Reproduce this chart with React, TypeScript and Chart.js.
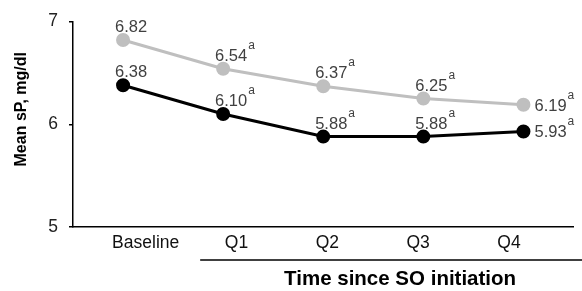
import React, { useEffect, useRef } from "react";
import { Chart, registerables } from "chart.js";

Chart.register(...registerables);

const categories = ["Baseline", "Q1", "Q2", "Q3", "Q4"];
const xTickLabels = ["Baseline", "Q1", "Q2", "Q3", "Q4"];
const grayValues = [6.82, 6.54, 6.37, 6.25, 6.19];
const blackValues = [6.38, 6.1, 5.88, 5.88, 5.93];
const graySup = ["", "a", "a", "a", "a"];
const blackSup = ["", "a", "a", "a", "a"];
const yTicks = [5, 6, 7];
const yTitle = "Mean sP, mg/dl";
const xTitle = "Time since SO initiation";

const FONT = '"Liberation Sans", Arial, Helvetica, sans-serif';

const labelPlugin = {
  id: "valueLabels",
  afterDatasetsDraw(chart: any) {
    const ctx = chart.ctx;
    ctx.save();
    chart.data.datasets.forEach((ds: any, di: number) => {
      const meta = chart.getDatasetMeta(di);
      const n = meta.data.length;
      meta.data.forEach((pt: any, i: number) => {
        const txt = Number(ds.data[i]).toFixed(2);
        const sup = ds.sups[i];
        ctx.font = `16.5px ${FONT}`;
        ctx.fillStyle = "#404040";
        ctx.textAlign = "left";
        ctx.textBaseline = "alphabetic";
        const w = ctx.measureText(txt).width;
        let x0: number;
        let yb: number;
        if (i === n - 1) {
          x0 = pt.x + 11;
          yb = pt.y + 6;
        } else {
          x0 = pt.x + 8 - w / 2;
          yb = pt.y - 8;
        }
        ctx.fillText(txt, x0, yb);
        if (sup) {
          ctx.font = `12px ${FONT}`;
          ctx.fillText(sup, x0 + w + 1, yb - 12);
        }
      });
    });
    ctx.restore();
  },
};

const decorPlugin = {
  id: "decor",
  afterDraw(chart: any) {
    const ctx = chart.ctx;
    const area = chart.chartArea;
    const x2 = chart.scales.x2;
    ctx.save();
    // underline under Q1..Q4
    ctx.strokeStyle = "#000";
    ctx.lineWidth = 1.5;
    ctx.beginPath();
    const lx = x2.getPixelForValue(0.6);
    ctx.moveTo(lx, area.bottom + 33);
    ctx.lineTo(chart.width, area.bottom + 33);
    ctx.stroke();
    // x title
    ctx.fillStyle = "#000";
    ctx.font = `bold 20.5px ${FONT}`;
    ctx.textAlign = "center";
    ctx.textBaseline = "alphabetic";
    ctx.fillText(xTitle, (lx + chart.width) / 2 + 9, area.bottom + 58);
    // y title
    ctx.translate(21.5, (area.top + area.bottom) / 2 - 15);
    ctx.rotate(-Math.PI / 2);
    ctx.font = `bold 16px ${FONT}`;
    ctx.textBaseline = "middle";
    ctx.fillText(yTitle, 0, 0);
    ctx.restore();
  },
};

export default function App() {
  const ref = useRef<HTMLCanvasElement | null>(null);
  useEffect(() => {
    if (!ref.current) return;
    const chart = new Chart(ref.current, {
      type: "line",
      data: {
        labels: categories,
        datasets: [
          {
            data: grayValues,
            sups: graySup,
            borderColor: "#bfbfbf",
            backgroundColor: "#bfbfbf",
            pointBackgroundColor: "#bfbfbf",
            pointBorderColor: "#bfbfbf",
            borderWidth: 3,
            pointRadius: 5.5,
            tension: 0,
            xAxisID: "x",
            yAxisID: "y",
          } as any,
          {
            data: blackValues,
            sups: blackSup,
            borderColor: "#000",
            backgroundColor: "#000",
            pointBackgroundColor: "#000",
            pointBorderColor: "#000",
            borderWidth: 3,
            pointRadius: 5.5,
            tension: 0,
            xAxisID: "x",
            yAxisID: "y",
          } as any,
        ],
      },
      options: {
        responsive: false,
        devicePixelRatio: 1,
        animation: false,
        layout: { padding: { top: 18, left: 0, right: 0, bottom: 0 } },
        plugins: { legend: { display: false }, tooltip: { enabled: false } },
        scales: {
          x: {
            type: "category",
            offset: true,
            ticks: { display: false },
            grid: { display: false, drawTicks: false },
            border: { display: true, color: "#000", width: 1.5 },
            afterFit: (s: any) => {
              s.height = 0;
            },
          },
          x2: {
            type: "linear",
            position: "bottom",
            min: -0.8,
            max: 4.71,
            afterBuildTicks: (s: any) => {
              s.ticks = xTickLabels.map((_, i) => ({ value: i }));
            },
            ticks: {
              callback: (v: any) => xTickLabels[v],
              font: { size: 17.5, family: FONT },
              color: "#111",
              padding: 6,
              autoSkip: false,
              maxRotation: 0,
            },
            grid: { display: false, drawTicks: false },
            border: { display: false },
            afterFit: (s: any) => {
              s.height = 64;
            },
          },
          y: {
            min: 5,
            max: 7,
            afterBuildTicks: (s: any) => {
              s.ticks = yTicks.map((v) => ({ value: v }));
            },
            ticks: {
              font: { size: 17.5, family: FONT },
              color: "#222",
              padding: 11,
            },
            grid: {
              drawOnChartArea: false,
              drawTicks: true,
              tickLength: 4,
              color: "#000",
              lineWidth: 1.5,
            },
            border: { display: true, color: "#000", width: 1.5 },
            afterFit: (s: any) => {
              s.width = 73;
            },
          },
        },
      } as any,
      plugins: [labelPlugin, decorPlugin],
    });
    return () => chart.destroy();
  }, []);
  return (
    <div style={{ position: "absolute", left: 0, top: 0, width: 582, height: 291 }}>
      <canvas ref={ref} width={582} height={291} style={{ display: "block" }} />
    </div>
  );
}
